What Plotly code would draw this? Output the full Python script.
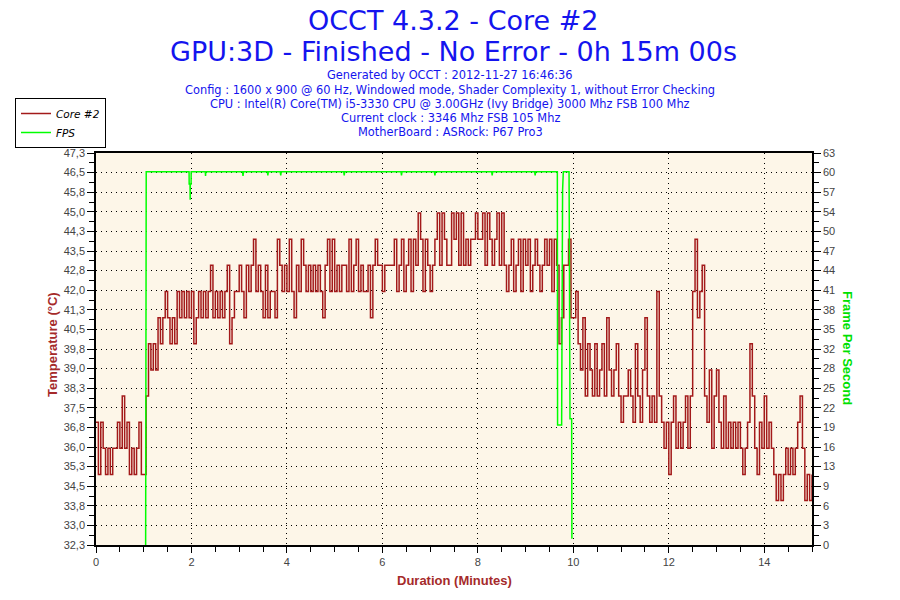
import plotly.graph_objects as go

# Core #2 temperature (deg C), one reading every 3 seconds from 0 to 15 min
core2_temp = [
    37, 35, 37, 36, 35, 36, 35, 36, 36, 37, 36, 38, 36, 37, 35, 36, 35, 36, 37, 35,
    35, 38, 40, 39, 40, 39, 41, 40, 41, 42, 41, 40, 41, 40, 42, 41, 42, 41, 42, 41,
    42, 40, 41, 42, 41, 42, 41, 42, 43, 41, 42, 41, 42, 41, 42, 43, 40, 41, 42, 42,
    43, 42, 41, 43, 42, 43, 44, 42, 43, 42, 41, 43, 41, 42, 42, 41, 44, 43, 42, 43,
    42, 44, 42, 41, 43, 42, 44, 43, 42, 43, 42, 43, 42, 43, 42, 41, 43, 44, 42, 44,
    42, 43, 42, 43, 43, 42, 44, 42, 43, 44, 42, 43, 42, 42, 43, 41, 43, 44, 43, 43,
    42, 43, 43, 43, 43, 44, 42, 43, 44, 42, 43, 44, 42, 44, 43, 45, 44, 42, 44, 43,
    42, 43, 44, 45, 43, 45, 44, 43, 43, 45, 44, 45, 43, 45, 43, 44, 43, 44, 44, 45,
    44, 44, 45, 43, 45, 44, 43, 44, 45, 43, 45, 43, 42, 43, 44, 42, 43, 44, 42, 44,
    43, 44, 42, 43, 44, 43, 42, 43, 44, 43, 44, 42, 44, 43, 40, 41, 43, 43, 44, 41,
    41, 42, 40, 39, 41, 38, 40, 39, 38, 40, 38, 39, 40, 38, 41, 39, 38, 39, 40, 38,
    37, 38, 38, 39, 38, 37, 40, 38, 37, 39, 41, 38, 37, 38, 37, 42, 38, 37, 36, 37,
    35, 37, 38, 36, 37, 36, 37, 38, 36, 38, 42, 44, 41, 42, 43, 38, 37, 39, 36, 38,
    39, 37, 36, 38, 36, 37, 36, 37, 36, 37, 36, 35, 36, 37, 40, 38, 36, 35, 37, 36,
    38, 36, 37, 36, 35, 34, 35, 34, 35, 36, 35, 36, 35, 36, 37, 38, 36, 34, 35, 34,
    35,
]
sample_step = 0.05  # minutes between two readings

# frames per second during the GPU test
fps_time = [1.04, 1.04, 1.052, 1.052, 1.95, 1.952, 1.97, 1.973, 1.976, 1.992, 1.994,
            2.29, 2.295, 2.30, 3.07, 3.08, 3.09, 3.59, 3.60, 3.61, 3.86, 3.87, 3.88,
            5.19, 5.20, 5.21, 6.39, 6.40, 6.41, 7.09, 7.10, 7.11, 8.29, 8.30, 8.31,
            9.19, 9.20, 9.21, 9.665, 9.67, 9.755, 9.76, 9.775, 9.79, 9.91, 9.916,
            9.93, 9.965, 9.97]
fps_value = [0, 30, 30, 60, 60, 58, 58, 55.5, 58, 58, 60,
             60, 59.3, 60, 60, 59.3, 60, 60, 59.4, 60, 60, 59.4, 60,
             60, 59.4, 60, 60, 59.4, 60, 60, 59.4, 60, 60, 59.4, 60,
             60, 59.4, 60, 60, 19.3, 19.3, 54.7, 57, 60, 60, 50,
             20.3, 20.3, 1]

title_lines = ["OCCT 4.3.2 - Core #2", "GPU:3D - Finished - No Error - 0h 15m 00s"]
info_lines = [
    "Generated by OCCT : 2012-11-27 16:46:36",
    "Config : 1600 x 900 @ 60 Hz, Windowed mode, Shader Complexity 1, without Error Checking",
    "CPU : Intel(R) Core(TM) i5-3330 CPU @ 3.00GHz (Ivy Bridge) 3000 Mhz FSB 100 Mhz",
    "Current clock : 3346 Mhz FSB 105 Mhz",
    "MotherBoard : ASRock: P67 Pro3",
]

temp_ticks = ["32,3", "33,0", "33,8", "34,5", "35,3", "36,0", "36,8", "37,5", "38,3", "39,0",
              "39,8", "40,5", "41,3", "42,0", "42,8", "43,5", "44,3", "45,0", "45,8", "46,5", "47,3"]
fps_ticks = ["0", "3", "6", "9", "13", "16", "19", "22", "25", "28", "32",
             "35", "38", "41", "44", "47", "50", "54", "57", "60", "63"]
x_ticks = [0, 2, 4, 6, 8, 10, 12, 14]

temp_min, temp_max = 32.3, 47.3
fps_min, fps_max = 0, 63
temp_vals = [temp_min + (temp_max - temp_min) * k / 20 for k in range(21)]
fps_vals = [fps_max * k / 20 for k in range(21)]
temp_minor = [temp_min + (temp_max - temp_min) * (k + 0.5) / 20 for k in range(20)]
fps_minor = [fps_max * (k + 0.5) / 20 for k in range(20)]
x_minor = [k * 0.5 for k in range(31) if k % 4 != 0]

RED = "#A31A1A"
GREEN = "#00FF00"
BLUE = "#1414EE"
AXIS_RED = "#A52A2A"

# plot area in pixels: x 96..812, y 153..545
def px_x(p):
    return (p - 96) / 716

def px_y(p):
    return (545 - p) / 392

fig = go.Figure()
fig.add_trace(go.Scatter(x0=0, dx=sample_step, y=core2_temp, mode="lines", name="Core #2",
                         line=dict(color=RED, width=1.5, shape="hv")))
fig.add_trace(go.Scatter(x=fps_time, y=fps_value, mode="lines", name="FPS", yaxis="y2",
                         line=dict(color=GREEN, width=1.5)))

tickfont = dict(family="Liberation Sans, Arial", size=11, color="#444444")
fig.update_layout(
    width=900, height=600,
    margin=dict(l=96, r=88, t=153, b=55),
    paper_bgcolor="white",
    plot_bgcolor="#FDF6E8",
    showlegend=True,
    legend=dict(x=px_x(15), y=px_y(98), xanchor="left", yanchor="top",
                bgcolor="white", bordercolor="black", borderwidth=1,
                font=dict(family="DejaVu Sans", size=10.5, color="black", style="italic"),
                tracegroupgap=0, itemwidth=30),
    xaxis=dict(range=[0, 15], tickvals=x_ticks, ticks="outside", ticklen=6,
               tickcolor="black", showline=True, linecolor="black", linewidth=1.5,
               mirror=True, showgrid=True, gridcolor="black", griddash="1px,4px",
               gridwidth=1, zeroline=False, tickfont=tickfont,
               minor=dict(tickmode="array", tickvals=x_minor, ticks="outside",
                          ticklen=5, tickcolor="black")),
    yaxis=dict(range=[temp_min, temp_max], tickmode="array", tickvals=temp_vals,
               ticktext=temp_ticks, ticks="outside", ticklen=7, tickcolor="black",
               showline=True, linecolor="black", linewidth=1.5, showgrid=True,
               gridcolor="black", griddash="1px,4px", gridwidth=1, zeroline=False,
               tickfont=tickfont,
               minor=dict(tickmode="array", tickvals=temp_minor, ticks="outside",
                          ticklen=5, tickcolor="black")),
    yaxis2=dict(range=[fps_min, fps_max], overlaying="y", side="right", tickmode="array",
                tickvals=fps_vals, ticktext=fps_ticks, ticks="outside", ticklen=7,
                tickcolor="black", showline=True, linecolor="black", linewidth=1.5,
                showgrid=False, zeroline=False, tickfont=tickfont,
                minor=dict(tickmode="array", tickvals=fps_minor, ticks="outside",
                           ticklen=5, tickcolor="black")),
)

notes = []
for text, cy in zip(title_lines, [20, 51]):
    notes.append(dict(text=text, x=px_x(453), y=px_y(cy), font=dict(size=27, color=BLUE,
                      family="DejaVu Sans")))
for text, cy in zip(info_lines, [75, 90, 104, 118, 132]):
    notes.append(dict(text=text, x=px_x(450), y=px_y(cy), font=dict(size=11.4, color=BLUE,
                      family="DejaVu Sans")))
notes.append(dict(text="<b>Temperature (°C)</b>", x=px_x(52), y=px_y(345), textangle=-90,
                  font=dict(size=13, color=AXIS_RED, family="Liberation Sans, Arial")))
notes.append(dict(text="<b>Duration (Minutes)</b>", x=px_x(454), y=px_y(580),
                  font=dict(size=13, color=AXIS_RED, family="Liberation Sans, Arial")))
notes.append(dict(text="<b>Frame Per Second</b>", x=px_x(848), y=px_y(348), textangle=90,
                  font=dict(size=13, color="#00E000", family="Liberation Sans, Arial")))
for n in notes:
    n.update(xref="paper", yref="paper", showarrow=False, xanchor="center", yanchor="middle")
fig.update_layout(annotations=notes)

# the page body has a default margin; remove it so the figure fills the window exactly
fig.write_html("out.html", config={"displayModeBar": False},
               post_script="document.body.style.margin='0';")
